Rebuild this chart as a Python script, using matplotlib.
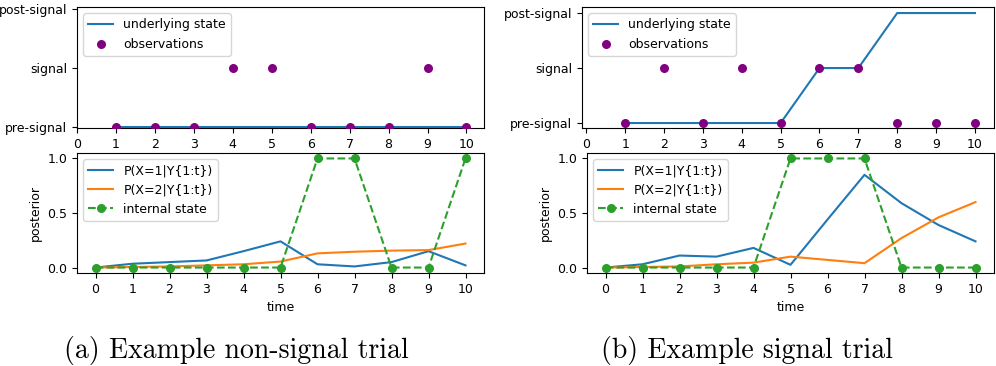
import matplotlib
matplotlib.use("Agg")
import matplotlib.pyplot as plt

# time axis
t_obs = [1, 2, 3, 4, 5, 6, 7, 8, 9, 10]
t_post = [0, 1, 2, 3, 4, 5, 6, 7, 8, 9, 10]
state_labels = ["pre-signal", "signal", "post-signal"]

# (a) non-signal trial
state_a = [0, 0, 0, 0, 0, 0, 0, 0, 0, 0]
obs_a = [0, 0, 0, 1, 1, 0, 0, 0, 1, 0]
p1_a = [0.0, 0.035, 0.05, 0.065, 0.15, 0.24, 0.03, 0.01, 0.05, 0.15, 0.02]
p2_a = [0.0, 0.005, 0.01, 0.02, 0.03, 0.055, 0.13, 0.145, 0.155, 0.16, 0.22]
internal_a = [0, 0, 0, 0, 0, 0, 1, 1, 0, 0, 1]

# (b) signal trial
state_b = [0, 0, 0, 0, 0, 1, 1, 2, 2, 2]
obs_b = [0, 1, 0, 1, 0, 1, 1, 0, 0, 0]
p1_b = [0.0, 0.03, 0.11, 0.10, 0.18, 0.025, 0.44, 0.85, 0.59, 0.39, 0.24]
p2_b = [0.0, 0.005, 0.01, 0.03, 0.045, 0.10, 0.07, 0.04, 0.27, 0.46, 0.60]
internal_b = [0, 0, 0, 0, 0, 1, 1, 1, 0, 0, 0]

W, H = 996, 366
fig = plt.figure(figsize=(W / 100, H / 100), dpi=100)


def box(x0, x1, top, bottom):
    return [x0 / W, (H - bottom) / H, (x1 - x0) / W, (bottom - top) / H]


def top_panel(ax, state, obs, xlim, ylim):
    ax.plot(t_obs, state, color="tab:blue", label="underlying state")
    ax.scatter(t_obs, obs, color="purple", s=30, zorder=3, label="observations")
    ax.set_yticks([0, 1, 2])
    ax.set_yticklabels(state_labels)
    ax.set_xticks(range(0, 11))
    ax.set_xlim(*xlim)
    ax.set_ylim(*ylim)
    ax.legend(loc="upper left", fontsize=9)


def bottom_panel(ax, p1, p2, internal):
    ax.plot(t_post, p1, color="tab:blue", label="P(X=1|Y{1:t})")
    ax.plot(t_post, p2, color="tab:orange", label="P(X=2|Y{1:t})")
    ax.plot(t_post, internal, "--o", color="tab:green", markersize=5.5,
            label="internal state")
    ax.set_xticks(t_post)
    ax.set_yticks([0.0, 0.5, 1.0])
    ax.set_xlabel("time", fontsize=9)
    ax.set_ylabel("posterior", fontsize=9)
    ax.legend(loc="upper left", fontsize=9)


ax1 = fig.add_axes(box(77, 484, 7, 128))
top_panel(ax1, state_a, obs_a, (0, 10.45), (-0.02, 2.03))
ax2 = fig.add_axes(box(77, 484, 153, 273))
bottom_panel(ax2, p1_a, p2_a, internal_a)

ax3 = fig.add_axes(box(582, 994, 7, 128))
top_panel(ax3, state_b, obs_b, (-0.11, 10.49), (-0.09, 2.11))
ax4 = fig.add_axes(box(587, 994, 153, 273))
bottom_panel(ax4, p1_b, p2_b, internal_b)

for ax in (ax1, ax2, ax3, ax4):
    ax.tick_params(labelsize=9)

# sub-captions
fig.text(236 / W, 1 - 358 / H, "(a) Example non-signal trial", family="cmr10",
         fontsize=20, ha="center", va="baseline")
fig.text(747 / W, 1 - 358 / H, "(b) Example signal trial", family="cmr10",
         fontsize=20, ha="center", va="baseline")

fig.savefig("out.png", dpi=100)
